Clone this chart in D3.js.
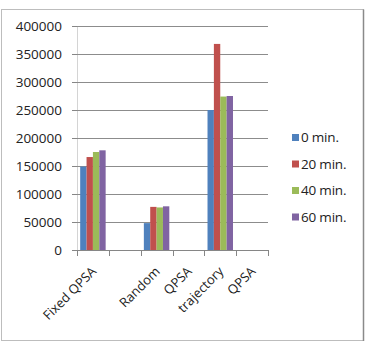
<!DOCTYPE html>
<html>
<head>
<meta charset="utf-8">
<script src="https://cdn.jsdelivr.net/npm/d3@7"></script>
<style>
  body { margin: 0; background: #fff; }
  svg text { font-family: "Open Sans", sans-serif; fill: #222; }
</style>
</head>
<body>
<div id="chart"></div>
<script>
// categories as on the axis (empty second slot, wrapped labels)
const categories = ["Fixed QPSA", "", "Random", "QPSA", "trajectory", "QPSA"];
const seriesNames = ["0 min.", "20 min.", "40 min.", "60 min."];
const seriesColors = ["#4F81BD", "#C0504D", "#9BBB59", "#8064A2"];
// values per category, null where no bars are drawn
const values0 = [149000, null, 48000, null, 250000, null];
const values20 = [166000, null, 77000, null, 368000, null];
const values40 = [175000, null, 76000, null, 274000, null];
const values60 = [178000, null, 78000, null, 275000, null];
const yTicks = [0, 50000, 100000, 150000, 200000, 250000, 300000, 350000, 400000];

const W = 367, H = 344;
const plot = { left: 77, right: 268, top: 26, bottom: 250 };

const svg = d3.select("#chart").append("svg")
    .attr("width", W)
    .attr("height", H);

// outer frame
svg.append("rect")
    .attr("x", 1.5).attr("y", 9.5)
    .attr("width", 362).attr("height", 331)
    .attr("fill", "none")
    .attr("stroke", "#bdbdbd")
    .attr("stroke-width", 1);
svg.append("line")
    .attr("x1", 363.5).attr("x2", 363.5)
    .attr("y1", 9.5).attr("y2", 341)
    .attr("stroke", "#8a8a8a").attr("stroke-width", 1.5);

const x = d3.scaleBand()
    .domain(d3.range(categories.length))
    .range([plot.left, plot.right])
    .paddingInner(0)
    .paddingOuter(0);

const y = d3.scaleLinear()
    .domain([0, 400000])
    .range([plot.bottom, plot.top]);

// --- GRIDLINES + Y AXIS ---
const yAxis = svg.append("g")
    .attr("transform", `translate(${plot.left},0)`)
    .call(d3.axisLeft(y).tickValues(yTicks).tickSize(5).tickPadding(10).tickFormat(d3.format("d")));
yAxis.select(".domain").attr("stroke", "#d4d4d4");
yAxis.selectAll(".tick line").attr("stroke", "#868686");
yAxis.selectAll(".tick text").style("font-size", "13.5px").attr("fill", "#222");

svg.append("g").selectAll("line")
    .data(yTicks.filter(d => d > 0))
    .enter().append("line")
    .attr("x1", plot.left).attr("x2", plot.right)
    .attr("y1", d => Math.round(y(d)) + 0.5)
    .attr("y2", d => Math.round(y(d)) + 0.5)
    .attr("stroke", "#8c8c8c");

// --- BARS ---
const series = [values0, values20, values40, values60];
const inner = d3.scaleBand()
    .domain(d3.range(series.length))
    .range([0, x.bandwidth()])
    .paddingOuter(0.5)
    .paddingInner(0);

series.forEach((vals, si) => {
    svg.append("g").selectAll("rect")
        .data(vals.map((v, i) => ({ i, v })).filter(d => d.v != null))
        .enter().append("rect")
        .attr("x", d => x(d.i) + inner(si))
        .attr("y", d => y(d.v))
        .attr("width", inner.bandwidth())
        .attr("height", d => y(0) - y(d.v))
        .attr("fill", seriesColors[si]);
});

// --- X AXIS ---
const xAxisG = svg.append("g").attr("transform", `translate(0,${plot.bottom})`);
xAxisG.append("line")
    .attr("x1", plot.left - 5).attr("x2", plot.right)
    .attr("y1", 0.5).attr("y2", 0.5)
    .attr("stroke", "#868686");
xAxisG.selectAll(".xtick")
    .data(d3.range(categories.length + 1))
    .enter().append("line")
    .attr("x1", i => Math.round(plot.left + i * x.bandwidth()) + 0.5)
    .attr("x2", i => Math.round(plot.left + i * x.bandwidth()) + 0.5)
    .attr("y1", 0).attr("y2", 6)
    .attr("stroke", "#868686");

xAxisG.selectAll(".xlabel")
    .data(categories)
    .enter().append("text")
    .attr("transform", (d, i) => `translate(${x(i) + x.bandwidth() / 2 + 1},${19}) rotate(-45)`)
    .attr("text-anchor", "end")
    .attr("dy", "0.35em")
    .style("font-size", "13px")
    .text(d => d);

// --- LEGEND ---
const legend = svg.append("g").attr("transform", "translate(292,137.5)");
const rows = legend.selectAll("g")
    .data(seriesNames)
    .enter().append("g")
    .attr("transform", (d, i) => `translate(0,${i * 26.5})`);
rows.append("rect")
    .attr("x", 0).attr("y", -3.5)
    .attr("width", 7).attr("height", 7)
    .attr("fill", (d, i) => seriesColors[i]);
rows.append("text")
    .attr("x", 9).attr("dy", "0.35em")
    .style("font-size", "13.5px")
    .style("letter-spacing", "-0.2px")
    .text(d => d);
</script>
</body>
</html>
